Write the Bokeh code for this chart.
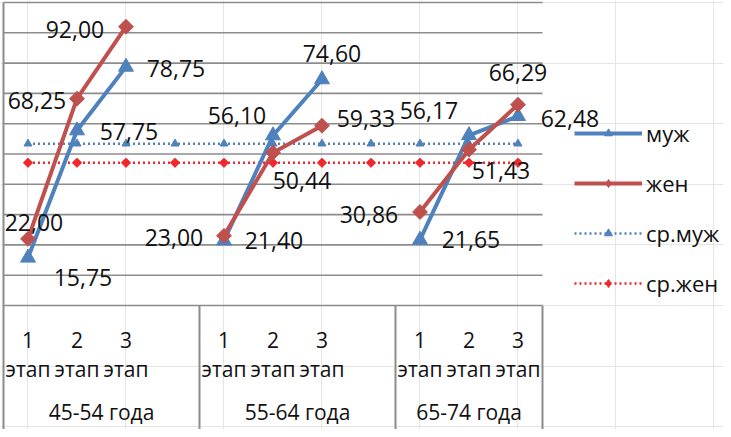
import numpy as np
from bokeh.plotting import figure
from bokeh.models import Range1d, Legend, LegendItem, ColumnDataSource
from bokeh.core.properties import value
from bokeh.embed import file_html
from bokeh.resources import INLINE

# ---------------- data ----------------
groups = ["45-54 года", "55-64 года", "65-74 года"]
stage_nums = ["1", "2", "3"]
stage_word = "этап"
slots_per_group = [4, 4, 3]          # 3 stages + one empty slot after groups 1 and 2

muzh = [15.75, 57.75, 78.75, 21.40, 56.10, 74.60, 21.65, 56.17, 62.48]
zhen = [22.00, 68.25, 92.00, 23.00, 50.44, 59.33, 30.86, 51.43, 66.29]
sr_muzh = [53.4, 53.4, 53.4, 53.4, 53.4, 53.4, 53.4, 53.4, 53.4, 53.4, 53.4]
sr_zhen = [47.1, 47.1, 47.1, 47.1, 47.1, 47.1, 47.1, 47.1, 47.1, 47.1, 47.1]
series_names = ["муж", "жен", "ср.муж", "ср.жен"]
y_ticks = [0, 10, 20, 30, 40, 50, 60, 70, 80, 90, 100]

# label placement (screen px offsets from the point), layout only
muzh_off = [(55, 20), (52, 1), (50, 2), (50, 0), (-36, -20), (10, -26), (51, 0), (-40, -25), (52, 2)]
zhen_off = [(6, -16), (-40, 2), (-51, 3), (-50, 2), (29, 28), (44, -7), (-51, 2), (32, 21), (0, -32)]

FONT = "Open Sans"
BLUE = "#4F81BD"
RED = "#C0504D"
RED2 = "#F0272B"
GRID = "#8c8c8c"
TXT = "#111111"

# ---------------- positions ----------------
n_slots = sum(slots_per_group)
starts = np.cumsum([0] + slots_per_group[:-1])
stage_x = []
for g, st in enumerate(starts):
    for s in range(3):
        stage_x.append(st + s)
stage_x = np.array(stage_x, dtype=float)

def full(vals):
    arr = np.full(n_slots, np.nan)
    arr[stage_x.astype(int)] = vals
    return arr

fmt = lambda v: f"{v:.2f}".replace(".", ",")

W, H = 723, 429
p = figure(width=W, height=H,
           x_range=Range1d(-0.561, 14.194),
           y_range=Range1d(-40.92, 100.66),
           output_backend="svg", toolbar_location=None,
           x_axis_location=None, y_axis_location=None,
           min_border=0,
           outline_line_color=None, background_fill_color="white",
           border_fill_color="white")

left_edge = -0.5
right_edge = n_slots - 0.5
bottom = -40.92

# horizontal gridlines of the value axis (plot area only)
p.segment(x0=[left_edge] * len(y_ticks), y0=y_ticks, x1=[right_edge] * len(y_ticks), y1=y_ticks,
          line_color=GRID, line_width=1.6)

# value axis line and category separators
top = max(y_ticks)
p.segment(x0=[left_edge], y0=[bottom], x1=[left_edge], y1=[top], line_color=GRID, line_width=2)
sep_x = [st - 0.5 for st in starts[1:]] + [right_edge]
p.segment(x0=sep_x, y0=[bottom] * len(sep_x), x1=sep_x, y1=[0] * len(sep_x),
          line_color=GRID, line_width=2)

xs_all = np.arange(n_slots, dtype=float)

# average lines
r_sm_l = p.line(xs_all, sr_muzh, line_color=BLUE, line_width=2.5, line_dash="2 3")
r_sm_m = p.scatter(xs_all, sr_muzh, marker="triangle", size=8, fill_color=BLUE, line_color=BLUE)
r_sz_l = p.line(xs_all, sr_zhen, line_color=RED2, line_width=2.5, line_dash="2 3")
r_sz_m = p.scatter(xs_all, sr_zhen, marker="square", angle=np.pi / 4, size=6.5,
                   fill_color=RED2, line_color=RED2)

# main lines
r_m_l = p.line(xs_all, full(muzh), line_color=BLUE, line_width=4)
r_m_m = p.scatter(stage_x, muzh, marker="triangle", size=15, fill_color=BLUE, line_color=BLUE)
r_z_l = p.line(xs_all, full(zhen), line_color=RED, line_width=4)
r_z_m = p.scatter(stage_x, zhen, marker="square", angle=np.pi / 4, size=10.5,
                  fill_color=RED, line_color=RED)

# legend-only diamond swatches (a single undefined point, never drawn in the plot)
lg_z = p.scatter(x=[np.nan], y=[np.nan], marker="diamond", size=17, fill_color=RED, line_color=RED)
lg_sz = p.scatter(x=[np.nan], y=[np.nan], marker="diamond", size=12, fill_color=RED2, line_color=RED2)

# data labels
for vals, offs in ((muzh, muzh_off), (zhen, zhen_off)):
    src = ColumnDataSource(dict(x=stage_x, y=vals, t=[fmt(v) for v in vals],
                                dx=[o[0] for o in offs], dy=[o[1] for o in offs]))
    p.text(x="x", y="y", text="t", x_offset="dx", y_offset="dy", source=src,
           text_font=value(FONT), text_font_size="23px", text_color=TXT,
           text_align="center", text_baseline="middle")

# category axis labels
p.text(x=stage_x, y=[0] * len(stage_x), text=stage_nums * len(groups), y_offset=34,
       text_font=value(FONT), text_font_size="21px", text_color=TXT,
       text_align="center", text_baseline="middle")
p.text(x=stage_x, y=[0] * len(stage_x), text=[stage_word] * len(stage_x), y_offset=63,
       text_font=value(FONT), text_font_size="21px", text_color=TXT,
       text_align="center", text_baseline="middle")
grp_x = [st - 0.5 + n / 2 for st, n in zip(starts, slots_per_group)]
p.text(x=grp_x, y=[0] * len(groups), text=groups, y_offset=106,
       text_font=value(FONT), text_font_size="21px", text_color=TXT,
       text_align="center", text_baseline="middle")

legend = Legend(items=[
    LegendItem(label=series_names[0], renderers=[r_m_l, r_m_m]),
    LegendItem(label=series_names[1], renderers=[r_z_l, lg_z]),
    LegendItem(label=series_names[2], renderers=[r_sm_l, r_sm_m]),
    LegendItem(label=series_names[3], renderers=[r_sz_l, lg_sz]),
], location=(574, 131), orientation="vertical",
    glyph_width=68, glyph_height=20, label_height=20, spacing=20,
    label_standoff=4, padding=0, margin=0,
    border_line_color=None, background_fill_alpha=0,
    label_text_font=FONT, label_text_font_size="22px", label_text_color=TXT)
p.add_layout(legend)

open("out.html", "w").write(file_html(p, INLINE))
